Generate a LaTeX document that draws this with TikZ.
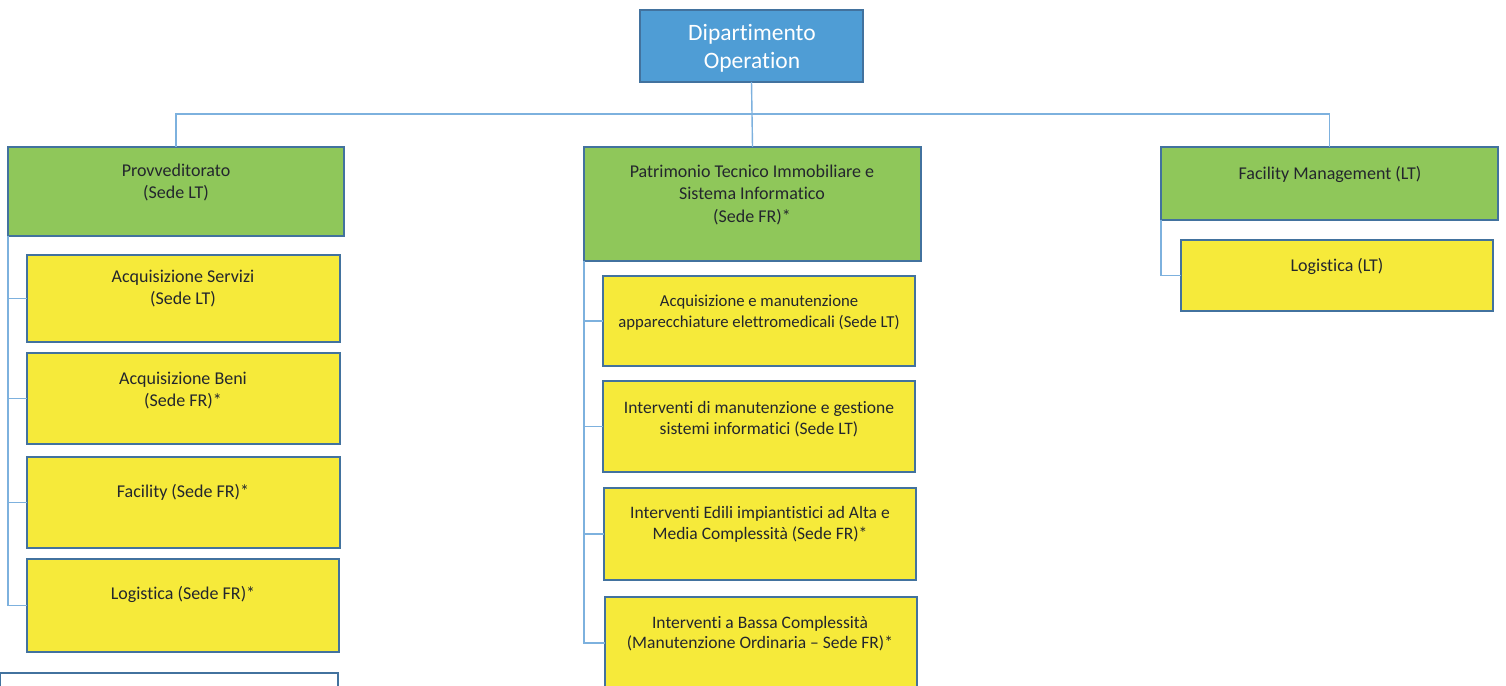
\documentclass[tikz,border=0pt]{standalone}
\usepackage{fontspec}
\setmainfont{Carlito}[Ligatures={NoCommon}]
\usetikzlibrary{fit}
\definecolor{deptblue}{RGB}{79,157,213}
\definecolor{unitgreen}{RGB}{143,199,90}
\definecolor{subyellow}{RGB}{246,234,58}
\definecolor{edge}{RGB}{66,114,158}
\definecolor{wire}{RGB}{125,177,222}
\definecolor{ink}{RGB}{35,38,45}
\tikzset{
  box/.style={draw=edge, line width=1.4pt, inner sep=0pt, outer sep=0pt, rectangle},
  deptbox/.style={box, fill=deptblue},
  unitbox/.style={box, fill=unitgreen},
  subbox/.style={box, fill=subyellow},
  blankbox/.style={box, fill=white},
  conn/.style={draw=wire, line width=1.4pt},
  lbl/.style={text=ink, align=center, inner sep=0pt, font=\fontsize{18}{22.5}\selectfont},
  small/.style={lbl, font=\fontsize{16.7}{20.5}\selectfont},
  mid/.style={lbl, font=\fontsize{17.5}{21.5}\selectfont},
  big/.style={align=center, inner sep=0pt, text=white, font=\fontsize{23.5}{28}\selectfont}
}
\begin{document}
\begin{tikzpicture}[x=1pt, y=-1pt]
\useasboundingbox (0,0) rectangle (1506,685);
\clip (0,0) rectangle (1506,685);

% department
\node[deptbox, fit={(640,10) (863,82)}] (dept) {};

% first level units
\node[unitbox, fit={(8,147) (344,236)}] (prov) {};
\node[unitbox, fit={(584,147) (921,261)}] (patr) {};
\node[unitbox, fit={(1161,147) (1498,220)}] (fm) {};

% Provveditorato sections
\node[subbox, fit={(27,255) (340,342)}] (acqs) {};
\node[subbox, fit={(27,353) (340,444)}] (acqb) {};
\node[subbox, fit={(27,457) (340,548)}] (fac) {};
\node[subbox, fit={(27,559) (339,652)}] (logfr) {};
\node[blankbox, fit={(0,673) (338,700)}] (extra) {};

% Patrimonio sections
\node[subbox, fit={(603,276) (915,366)}] (app) {};
\node[subbox, fit={(603,381) (915,472)}] (inf) {};
\node[subbox, fit={(604,488) (916,580)}] (edi) {};
\node[subbox, fit={(605,597) (917,689)}] (bas) {};

% Facility Management section
\node[subbox, fit={(1181,240) (1493,311)}] (loglt) {};

% connectors
\draw[conn] (dept.south) -- (patr.north);
\draw[conn] (prov.north) -- ++(0,-33) -| (fm.north);
\foreach \c in {acqs,acqb,fac,logfr}
  \draw[conn] (prov.south west) |- (\c.west);
\foreach \c in {app,inf,edi,bas}
  \draw[conn] (patr.south west) |- (\c.west);
\draw[conn] (fm.south west) |- (loglt.west);

% labels
\node[big] (deptT) at (752,48.5) {Dipartimento\\Operation};
\node[lbl] (provT) at (176,182.5) {Provveditorato\\(Sede LT)};
\node[lbl] (patrT) at (752,194.5) {Patrimonio Tecnico Immobiliare e\\Sistema Informatico\\(Sede FR)*};
\node[lbl] (fmT) at (1330,174.5) {Facility Management (LT)};
\node[lbl] (acqsT) at (183,288.5) {Acquisizione Servizi\\(Sede LT)};
\node[lbl] (acqbT) at (183,390.5) {Acquisizione Beni\\(Sede FR)*};
\node[lbl] (facT) at (183,492.5) {Facility (Sede FR)*};
\node[lbl] (logfrT) at (183,594.5) {Logistica (Sede FR)*};
\node[small] (appT) at (759,312.5) {Acquisizione e manutenzione\\apparecchiature elettromedicali (Sede LT)};
\node[mid] (infT) at (759,419) {Interventi di manutenzione e gestione\\sistemi informatici (Sede LT)};
\node[mid] (ediT) at (760,524.5) {Interventi Edili impiantistici ad Alta e\\Media Complessità (Sede FR)*};
\node[mid, font=\fontsize{17.5}{20.5}\selectfont] (basT) at (760,633.5) {Interventi a Bassa Complessità\\(Manutenzione Ordinaria – Sede FR)*};
\node[lbl] (logltT) at (1337,266.5) {Logistica (LT)};
\end{tikzpicture}
\end{document}
